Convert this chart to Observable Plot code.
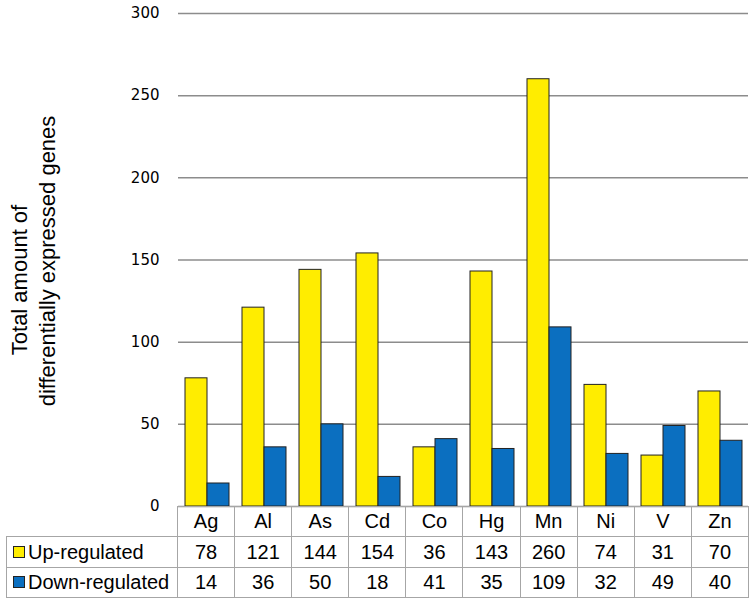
<!DOCTYPE html>
<html>
<head>
<meta charset="utf-8">
<script src="https://cdn.jsdelivr.net/npm/d3@7"></script>
<script src="https://cdn.jsdelivr.net/npm/@observablehq/plot@0.6"></script>
<style>
  html, body { margin: 0; padding: 0; background: white; }
  #wrap { position: relative; width: 755px; height: 601px; font-family: "Liberation Sans", Arial, sans-serif; }
  #wrap svg { position: absolute; left: 0; top: 0; }
  table.dt { position: absolute; left: 6px; top: 506px; border-collapse: collapse; table-layout: fixed; font-size: 20px; color: #000; }
  table.dt td { border: 1.5px solid #a6a6a6; padding: 0; height: 29px; text-align: center; vertical-align: middle; white-space: nowrap; }
  table.dt td.corner { border: none; }
  table.dt td.lab { text-align: left; padding-left: 6px; }
  .sw { display: inline-block; width: 10px; height: 10px; border: 1.2px solid #222; margin-right: 3px; vertical-align: 1px; }
</style>
</head>
<body>
<div id="wrap"></div>
<script>
const metals = ["Ag", "Al", "As", "Cd", "Co", "Hg", "Mn", "Ni", "V", "Zn"];
const upValues = [78, 121, 144, 154, 36, 143, 260, 74, 31, 70];
const downValues = [14, 36, 50, 18, 41, 35, 109, 32, 49, 40];
const seriesNames = ["Up-regulated", "Down-regulated"];
const seriesColors = ["#ffed00", "#0b6fc0"];
const yTicks = [0, 50, 100, 150, 200, 250, 300];
const yLabelLines = ["Total amount of", "differentially expressed genes"];

const data = metals.flatMap((m, i) => [
  {metal: m, series: seriesNames[0], value: upValues[i]},
  {metal: m, series: seriesNames[1], value: downValues[i]}
]);

const chart = Plot.plot({
  width: 755,
  height: 601,
  marginTop: 13,
  marginBottom: 95,
  marginLeft: 177,
  marginRight: 7,
  style: {fontFamily: "'DejaVu Sans', sans-serif", fontSize: "15px", color: "#000", background: "transparent", overflow: "visible"},
  facet: {data, x: "metal"},
  fx: {domain: metals, padding: 0, axis: null, label: null},
  x: {domain: seriesNames, paddingInner: 0, paddingOuter: 0.25, axis: null, label: null},
  y: {domain: [0, 300], ticks: yTicks, tickSize: 0, tickPadding: 19, label: null},
  color: {domain: seriesNames, range: seriesColors},
  marks: [
    Plot.ruleY(yTicks, {stroke: "#8c8c8c", strokeWidth: 1.5}),
    Plot.barY(data, {x: "series", y: "value", fill: "series", stroke: "#222", strokeWidth: 1})
  ]
});

const wrap = document.getElementById("wrap");
wrap.appendChild(chart);

// y-axis title (two lines)
const svg = d3.select(chart);
const labPos = [[27, 280], [55, 261]];
yLabelLines.forEach((t, i) => {
  svg.append("text")
    .attr("transform", `translate(${labPos[i][0]},${labPos[i][1]}) rotate(-90)`)
    .attr("text-anchor", "middle")
    .attr("font-size", 22)
    .attr("font-family", "'Liberation Sans', Arial, sans-serif")
    .attr("fill", "#000")
    .text(t);
});

// data table below the chart
const colW = 571 / metals.length;
const table = document.createElement("table");
table.className = "dt";
const cg = document.createElement("colgroup");
const c0 = document.createElement("col"); c0.style.width = "171px"; cg.appendChild(c0);
metals.forEach(() => { const c = document.createElement("col"); c.style.width = colW + "px"; cg.appendChild(c); });
table.appendChild(cg);

const hr = table.insertRow();
const corner = hr.insertCell(); corner.className = "corner";
metals.forEach(m => { hr.insertCell().textContent = m; });

[upValues, downValues].forEach((vals, si) => {
  const r = table.insertRow();
  const lab = r.insertCell(); lab.className = "lab";
  const sw = document.createElement("span"); sw.className = "sw"; sw.style.background = seriesColors[si];
  lab.appendChild(sw);
  lab.appendChild(document.createTextNode(seriesNames[si]));
  vals.forEach(v => { r.insertCell().textContent = v; });
  if (si === 0) r.style.height = "31px";
});
wrap.appendChild(table);
</script>
</body>
</html>
